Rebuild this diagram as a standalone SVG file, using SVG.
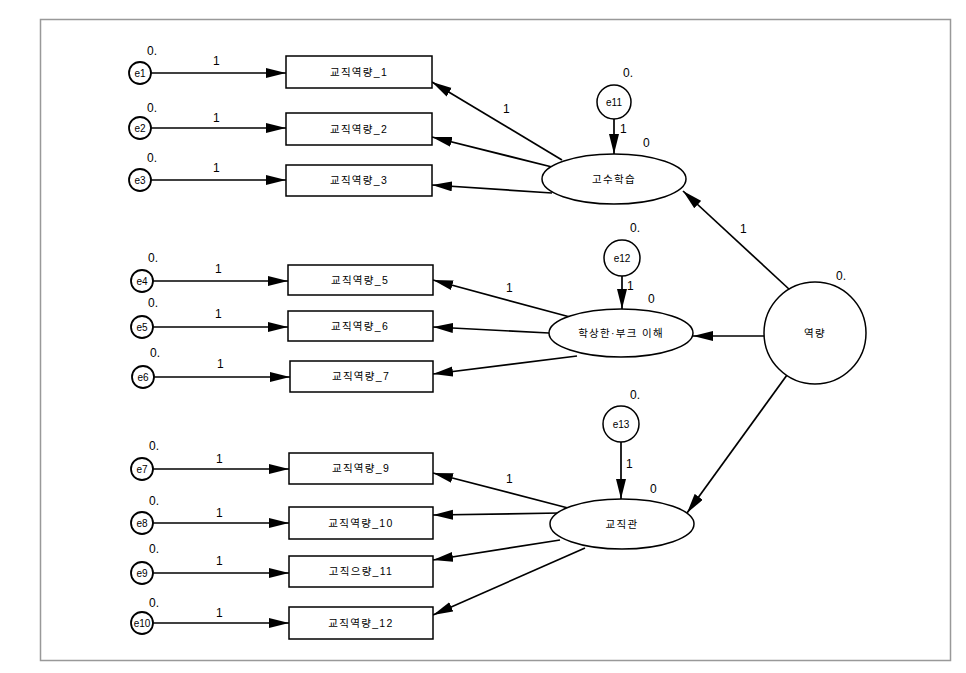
<svg xmlns="http://www.w3.org/2000/svg" width="966" height="673" viewBox="0 0 966 673">
<defs>
<marker id="arr" markerUnits="userSpaceOnUse" markerWidth="21" markerHeight="11" refX="20" refY="5" orient="auto">
<path d="M0,0 L20,5 L0,10 z" fill="#000"/>
</marker>
<style>
.t{font-family:"Liberation Sans","Noto Sans CJK KR",sans-serif;fill:#000}
.n{font-size:12px}
.k{font-size:10.5px;text-anchor:middle;letter-spacing:1.3px}
.e{font-size:10px;text-anchor:middle}
.box{fill:#fff;stroke:#000;stroke-width:1.5}
.ec{fill:#fff;stroke:#000;stroke-width:1.8}
.lat{fill:#fff;stroke:#000;stroke-width:1.5}
.c line{stroke:#000;stroke-width:1.7;marker-end:url(#arr)}
</style>
</defs>
<rect width="966" height="673" fill="#fff"/>
<rect x="40.5" y="19.5" width="910" height="641" fill="none" stroke="#999" stroke-width="1.5"/>

<g class="c" id="connectors">
<line x1="151" y1="73" x2="286" y2="73"/>
<line x1="151" y1="128" x2="286" y2="128"/>
<line x1="151" y1="180" x2="286" y2="180"/>
<line x1="153" y1="281" x2="288" y2="281"/>
<line x1="153" y1="327" x2="288" y2="327"/>
<line x1="154" y1="377" x2="290" y2="377"/>
<line x1="153" y1="469" x2="289" y2="469"/>
<line x1="153" y1="523" x2="289" y2="523"/>
<line x1="153" y1="573" x2="289" y2="573"/>
<line x1="153" y1="623" x2="289" y2="623"/>
<line x1="562" y1="160" x2="432" y2="82"/>
<line x1="552" y1="167" x2="432" y2="137"/>
<line x1="552" y1="193" x2="432" y2="185"/>
<line x1="570" y1="317" x2="433" y2="280"/>
<line x1="549" y1="333" x2="433" y2="327"/>
<line x1="577" y1="356" x2="433" y2="374"/>
<line x1="568" y1="508" x2="433" y2="473"/>
<line x1="560" y1="513" x2="433" y2="515"/>
<line x1="560" y1="540" x2="433" y2="560"/>
<line x1="585" y1="548" x2="433" y2="615"/>
<line x1="614" y1="119" x2="614" y2="154"/>
<line x1="622" y1="276" x2="622" y2="309"/>
<line x1="621" y1="442" x2="621" y2="499"/>
<line x1="790" y1="290" x2="683" y2="191"/>
<line x1="764" y1="336" x2="693" y2="336"/>
<line x1="787" y1="375" x2="687" y2="513"/>
</g>

<g id="e1"><circle class="ec" cx="140" cy="73" r="11"/><text class="t e" x="140" y="77">e1</text><text class="t n" x="147" y="55">0.</text><text class="t n" x="213" y="65">1</text></g>
<g id="e2"><circle class="ec" cx="140" cy="128" r="11"/><text class="t e" x="140" y="132">e2</text><text class="t n" x="147" y="112">0.</text><text class="t n" x="213" y="122">1</text></g>
<g id="e3"><circle class="ec" cx="140" cy="180" r="11"/><text class="t e" x="140" y="184">e3</text><text class="t n" x="147" y="162">0.</text><text class="t n" x="213" y="172">1</text></g>
<g id="e4"><circle class="ec" cx="142" cy="281" r="11"/><text class="t e" x="142" y="285">e4</text><text class="t n" x="148" y="262">0.</text><text class="t n" x="215" y="273">1</text></g>
<g id="e5"><circle class="ec" cx="142" cy="327" r="11"/><text class="t e" x="142" y="331">e5</text><text class="t n" x="148" y="307">0.</text><text class="t n" x="215" y="318">1</text></g>
<g id="e6"><circle class="ec" cx="143" cy="377" r="11"/><text class="t e" x="143" y="381">e6</text><text class="t n" x="150" y="357">0.</text><text class="t n" x="217" y="368">1</text></g>
<g id="e7"><circle class="ec" cx="142" cy="469" r="11"/><text class="t e" x="142" y="473">e7</text><text class="t n" x="149" y="450">0.</text><text class="t n" x="216" y="463">1</text></g>
<g id="e8"><circle class="ec" cx="142" cy="523" r="11"/><text class="t e" x="142" y="527">e8</text><text class="t n" x="149" y="505">0.</text><text class="t n" x="216" y="517">1</text></g>
<g id="e9"><circle class="ec" cx="142" cy="573" r="11"/><text class="t e" x="142" y="577">e9</text><text class="t n" x="149" y="553">0.</text><text class="t n" x="216" y="565">1</text></g>
<g id="e10"><circle class="ec" cx="142" cy="623" r="11"/><text class="t e" x="142" y="627">e10</text><text class="t n" x="149" y="607">0.</text><text class="t n" x="216" y="617">1</text></g>

<g id="v1"><rect class="box" x="286" y="56" width="146" height="32"/><text class="t k" x="359" y="76">교직역량_1</text></g>
<g id="v2"><rect class="box" x="286" y="113" width="146" height="32"/><text class="t k" x="359" y="133">교직역량_2</text></g>
<g id="v3"><rect class="box" x="286" y="165" width="146" height="31"/><text class="t k" x="359" y="184">교직역량_3</text></g>
<g id="v5"><rect class="box" x="288" y="265" width="145" height="30"/><text class="t k" x="360" y="284">교직역량_5</text></g>
<g id="v6"><rect class="box" x="288" y="311" width="145" height="30"/><text class="t k" x="360" y="330">교직역량_6</text></g>
<g id="v7"><rect class="box" x="290" y="361" width="143" height="31"/><text class="t k" x="361" y="380">교직역량_7</text></g>
<g id="v9"><rect class="box" x="289" y="453" width="144" height="31"/><text class="t k" x="361" y="472">교직역량_9</text></g>
<g id="v10"><rect class="box" x="289" y="507" width="144" height="32"/><text class="t k" x="361" y="527">교직역량_10</text></g>
<g id="v11"><rect class="box" x="289" y="556" width="144" height="31"/><text class="t k" x="361" y="575">고직으량_11</text></g>
<g id="v12"><rect class="box" x="289" y="607" width="144" height="32"/><text class="t k" x="361" y="627">교직역량_12</text></g>

<g id="f1"><ellipse class="lat" cx="614" cy="179" rx="72" ry="25"/><text class="t k" x="614" y="183">고수학습</text><text class="t n" x="643" y="147">0</text><text class="t n" x="503" y="113">1</text></g>
<g id="e11"><circle class="lat" cx="614" cy="102" r="17"/><text class="t e" x="614" y="106">e11</text><text class="t n" x="623" y="77">0.</text><text class="t n" x="620" y="133">1</text></g>
<g id="f2"><ellipse class="lat" cx="621" cy="333" rx="72" ry="24"/><text class="t k" x="621" y="337">학상한·부크 이해</text><text class="t n" x="648" y="303">0</text><text class="t n" x="506" y="292">1</text></g>
<g id="e12"><circle class="lat" cx="622" cy="258" r="18"/><text class="t e" x="622" y="262">e12</text><text class="t n" x="630" y="232">0.</text><text class="t n" x="627" y="290">1</text></g>
<g id="f3"><ellipse class="lat" cx="622" cy="524" rx="72" ry="25"/><text class="t k" x="622" y="528">교직관</text><text class="t n" x="650" y="493">0</text><text class="t n" x="506" y="483">1</text></g>
<g id="e13"><circle class="lat" cx="621" cy="424" r="18"/><text class="t e" x="621" y="428">e13</text><text class="t n" x="630" y="399">0.</text><text class="t n" x="626" y="468">1</text></g>
<g id="f0"><circle class="lat" cx="815" cy="333" r="51"/><text class="t k" x="815" y="337">역량</text><text class="t n" x="836" y="280">0.</text><text class="t n" x="740" y="233">1</text></g>
</svg>
